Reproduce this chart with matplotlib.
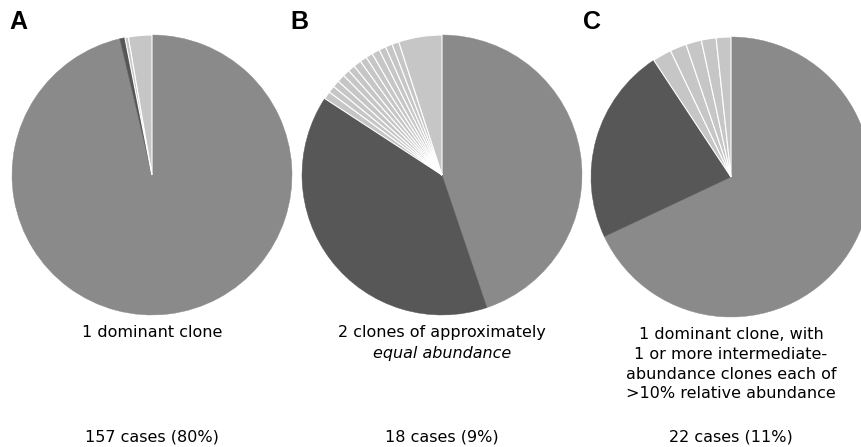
import matplotlib.pyplot as plt

# slice sizes in percent, clockwise from 12 o'clock
pie_a = [96.3, 0.6, 0.4, 2.7]
pie_b = [44.8, 39.4, 0.9, 0.8, 0.8, 0.9, 0.8, 0.8, 0.9, 0.8, 0.8, 0.9, 0.8, 0.8, 0.8, 5.0]
pie_c = [68.0, 22.7, 2.2, 1.9, 1.8, 1.7, 1.7]

panel_letters = ['A', 'B', 'C']
descriptions = ['1 dominant clone',
                '2 clones of approximately',
                '1 dominant clone, with\n1 or more intermediate-\nabundance clones each of\n>10% relative abundance']
case_counts = ['157 cases (80%)', '18 cases (9%)', '22 cases (11%)']

MID = '#8a8a8a'
DARK = '#575757'
LIGHT = '#c6c6c6'

W, H = 861, 447
fig = plt.figure(figsize=(W / 100, H / 100), dpi=100)

# centre x, centre y (pixels from top), radius
centres = [(152, 175), (442, 175), (731, 177)]
letter_x = [9, 290, 583]
R = 140
data = [pie_a, pie_b, pie_c]

for i, (cx, cy) in enumerate(centres):
    ax = fig.add_axes([(cx - R) / W, (H - cy - R) / H, 2 * R / W, 2 * R / H])
    vals = data[i]
    cols = [MID, DARK] + [LIGHT] * (len(vals) - 2)
    wedges, _ = ax.pie(vals, colors=cols, startangle=90, counterclock=False,
                       radius=1.0)
    for k, w in enumerate(wedges):
        if k >= 2:
            w.set_edgecolor('white')
            w.set_linewidth(0.8)
        else:
            w.set_edgecolor(cols[k])
            w.set_linewidth(0.3)
    ax.set_xlim(-1.0, 1.0)
    ax.set_ylim(-1.0, 1.0)
    ax.set_aspect('equal')
    ax.axis('off')

    fig.text(letter_x[i] / W, 1 - 22 / H, panel_letters[i], fontsize=18,
             fontweight='bold', family='Liberation Sans', va='center', ha='left')
    top = 325 if i < 2 else 327
    fig.text(cx / W, 1 - top / H, descriptions[i], fontsize=11.5, ha='center',
             va='top', linespacing=1.4)
    fig.text(cx / W, 1 - 437 / H, case_counts[i], fontsize=11.5, ha='center',
             va='center')

# second line of B is in italics
fig.text(442 / W, 1 - 346 / H, 'equal abundance', fontsize=11.5, ha='center',
         va='top', style='italic')

fig.savefig('out.png', dpi=100)
